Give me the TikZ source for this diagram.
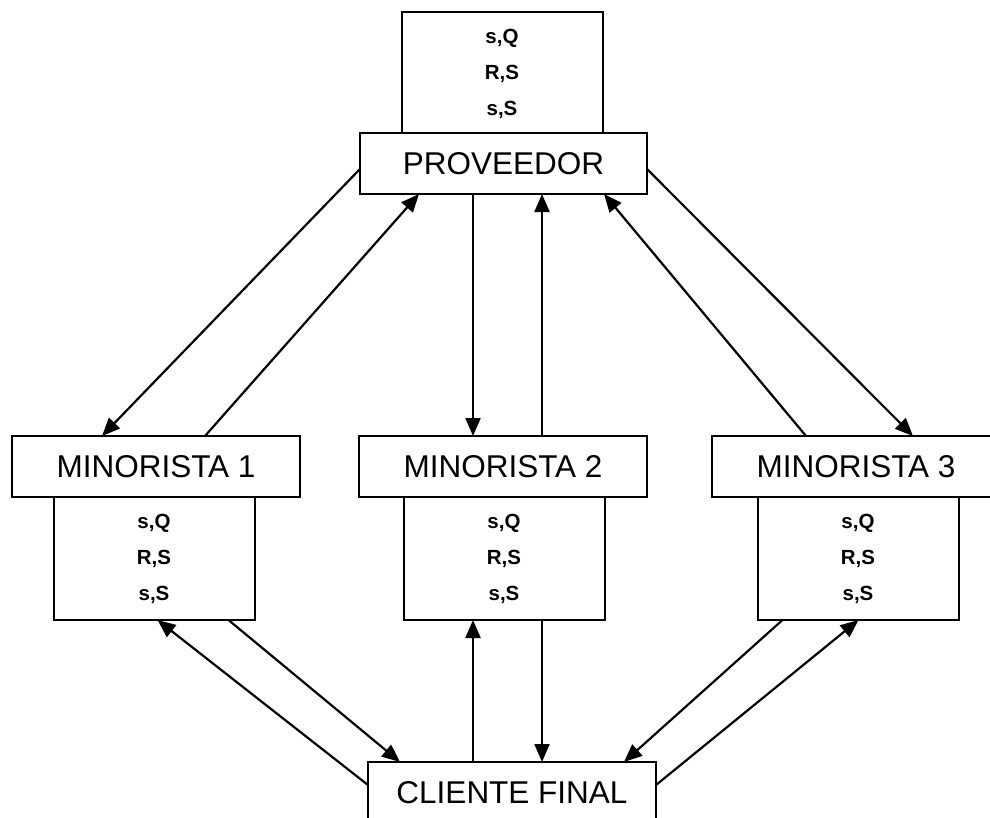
\documentclass[tikz,border=0pt]{standalone}
\usepackage{fontspec}
\setmainfont{Liberation Sans}
\usetikzlibrary{arrows.meta,calc}
\begin{document}
\begin{tikzpicture}[x=1pt,y=-1pt,
  mainbox/.style={draw, line width=2pt, fill=white, minimum width=288pt, minimum height=61pt, inner sep=0pt, outer sep=0pt, font=\fontsize{31.5}{36}\selectfont},
  polbox/.style={draw, line width=2pt, fill=white, minimum width=201pt, minimum height=123pt, inner sep=0pt, outer sep=0pt, align=center, font=\fontsize{20.5}{36}\selectfont\bfseries},
  conn/.style={line width=2.2pt, -{Triangle[length=18pt,width=15pt]}}]
\useasboundingbox (0,0) rectangle (990,817);
\clip (0,0) rectangle (990,817);
\fill[white] (0,0) rectangle (990,817);
% policy boxes and main boxes
\node[polbox] (provpol) at (502,73.5) {s,Q\\R,S\\s,S};
\node[mainbox, minimum width=287pt] (prov) at (503.5,163.5) {PROVEEDOR};
\node[mainbox] (m1) at (156,466.5) {MINORISTA 1};
\node[mainbox] (m2) at (503,466.5) {MINORISTA 2};
\node[mainbox] (m3) at (856,466.5) {MINORISTA 3};
\node[polbox] (m1pol) at (154,558.5) {s,Q\\R,S\\s,S};
\node[polbox] (m2pol) at (504,558.5) {s,Q\\R,S\\s,S};
\node[polbox] (m3pol) at (858,558.5) {s,Q\\R,S\\s,S};
\node[mainbox] (cli) at (512,792.5) {CLIENTE FINAL};
% proveedor <-> minoristas
\draw[conn] ($(prov.west)+(0,5.5)$) -- ($(m1.north west)+(90,0)$);
\draw[conn] ($(m1.north west)+(193,0)$) -- ($(prov.south west)+(59,0)$);
\draw[conn] ($(prov.south west)+(113,0)$) -- ($(m2.north west)+(114,0)$);
\draw[conn] ($(m2.north west)+(183,0)$) -- ($(prov.south west)+(182,0)$);
\draw[conn] ($(m3.north west)+(94,0)$) -- ($(prov.south west)+(244,0)$);
\draw[conn] ($(prov.east)+(0,5.5)$) -- ($(m3.north west)+(201,0)$);
% minoristas <-> cliente
\draw[conn] ($(cli.west)+(0,-7.5)$) -- ($(m1pol.south west)+(104,0)$);
\draw[conn] ($(m1pol.south west)+(175,0)$) -- ($(cli.north west)+(32,0)$);
\draw[conn] ($(cli.north west)+(105,0)$) -- ($(m2pol.south west)+(69.5,0)$);
\draw[conn] ($(m2pol.south west)+(138.5,0)$) -- ($(cli.north west)+(174,0)$);
\draw[conn] ($(m3pol.south west)+(25,0)$) -- ($(cli.north west)+(256,0)$);
\draw[conn] ($(cli.east)+(0,-7.5)$) -- ($(m3pol.south west)+(101,0)$);
\end{tikzpicture}
\end{document}
